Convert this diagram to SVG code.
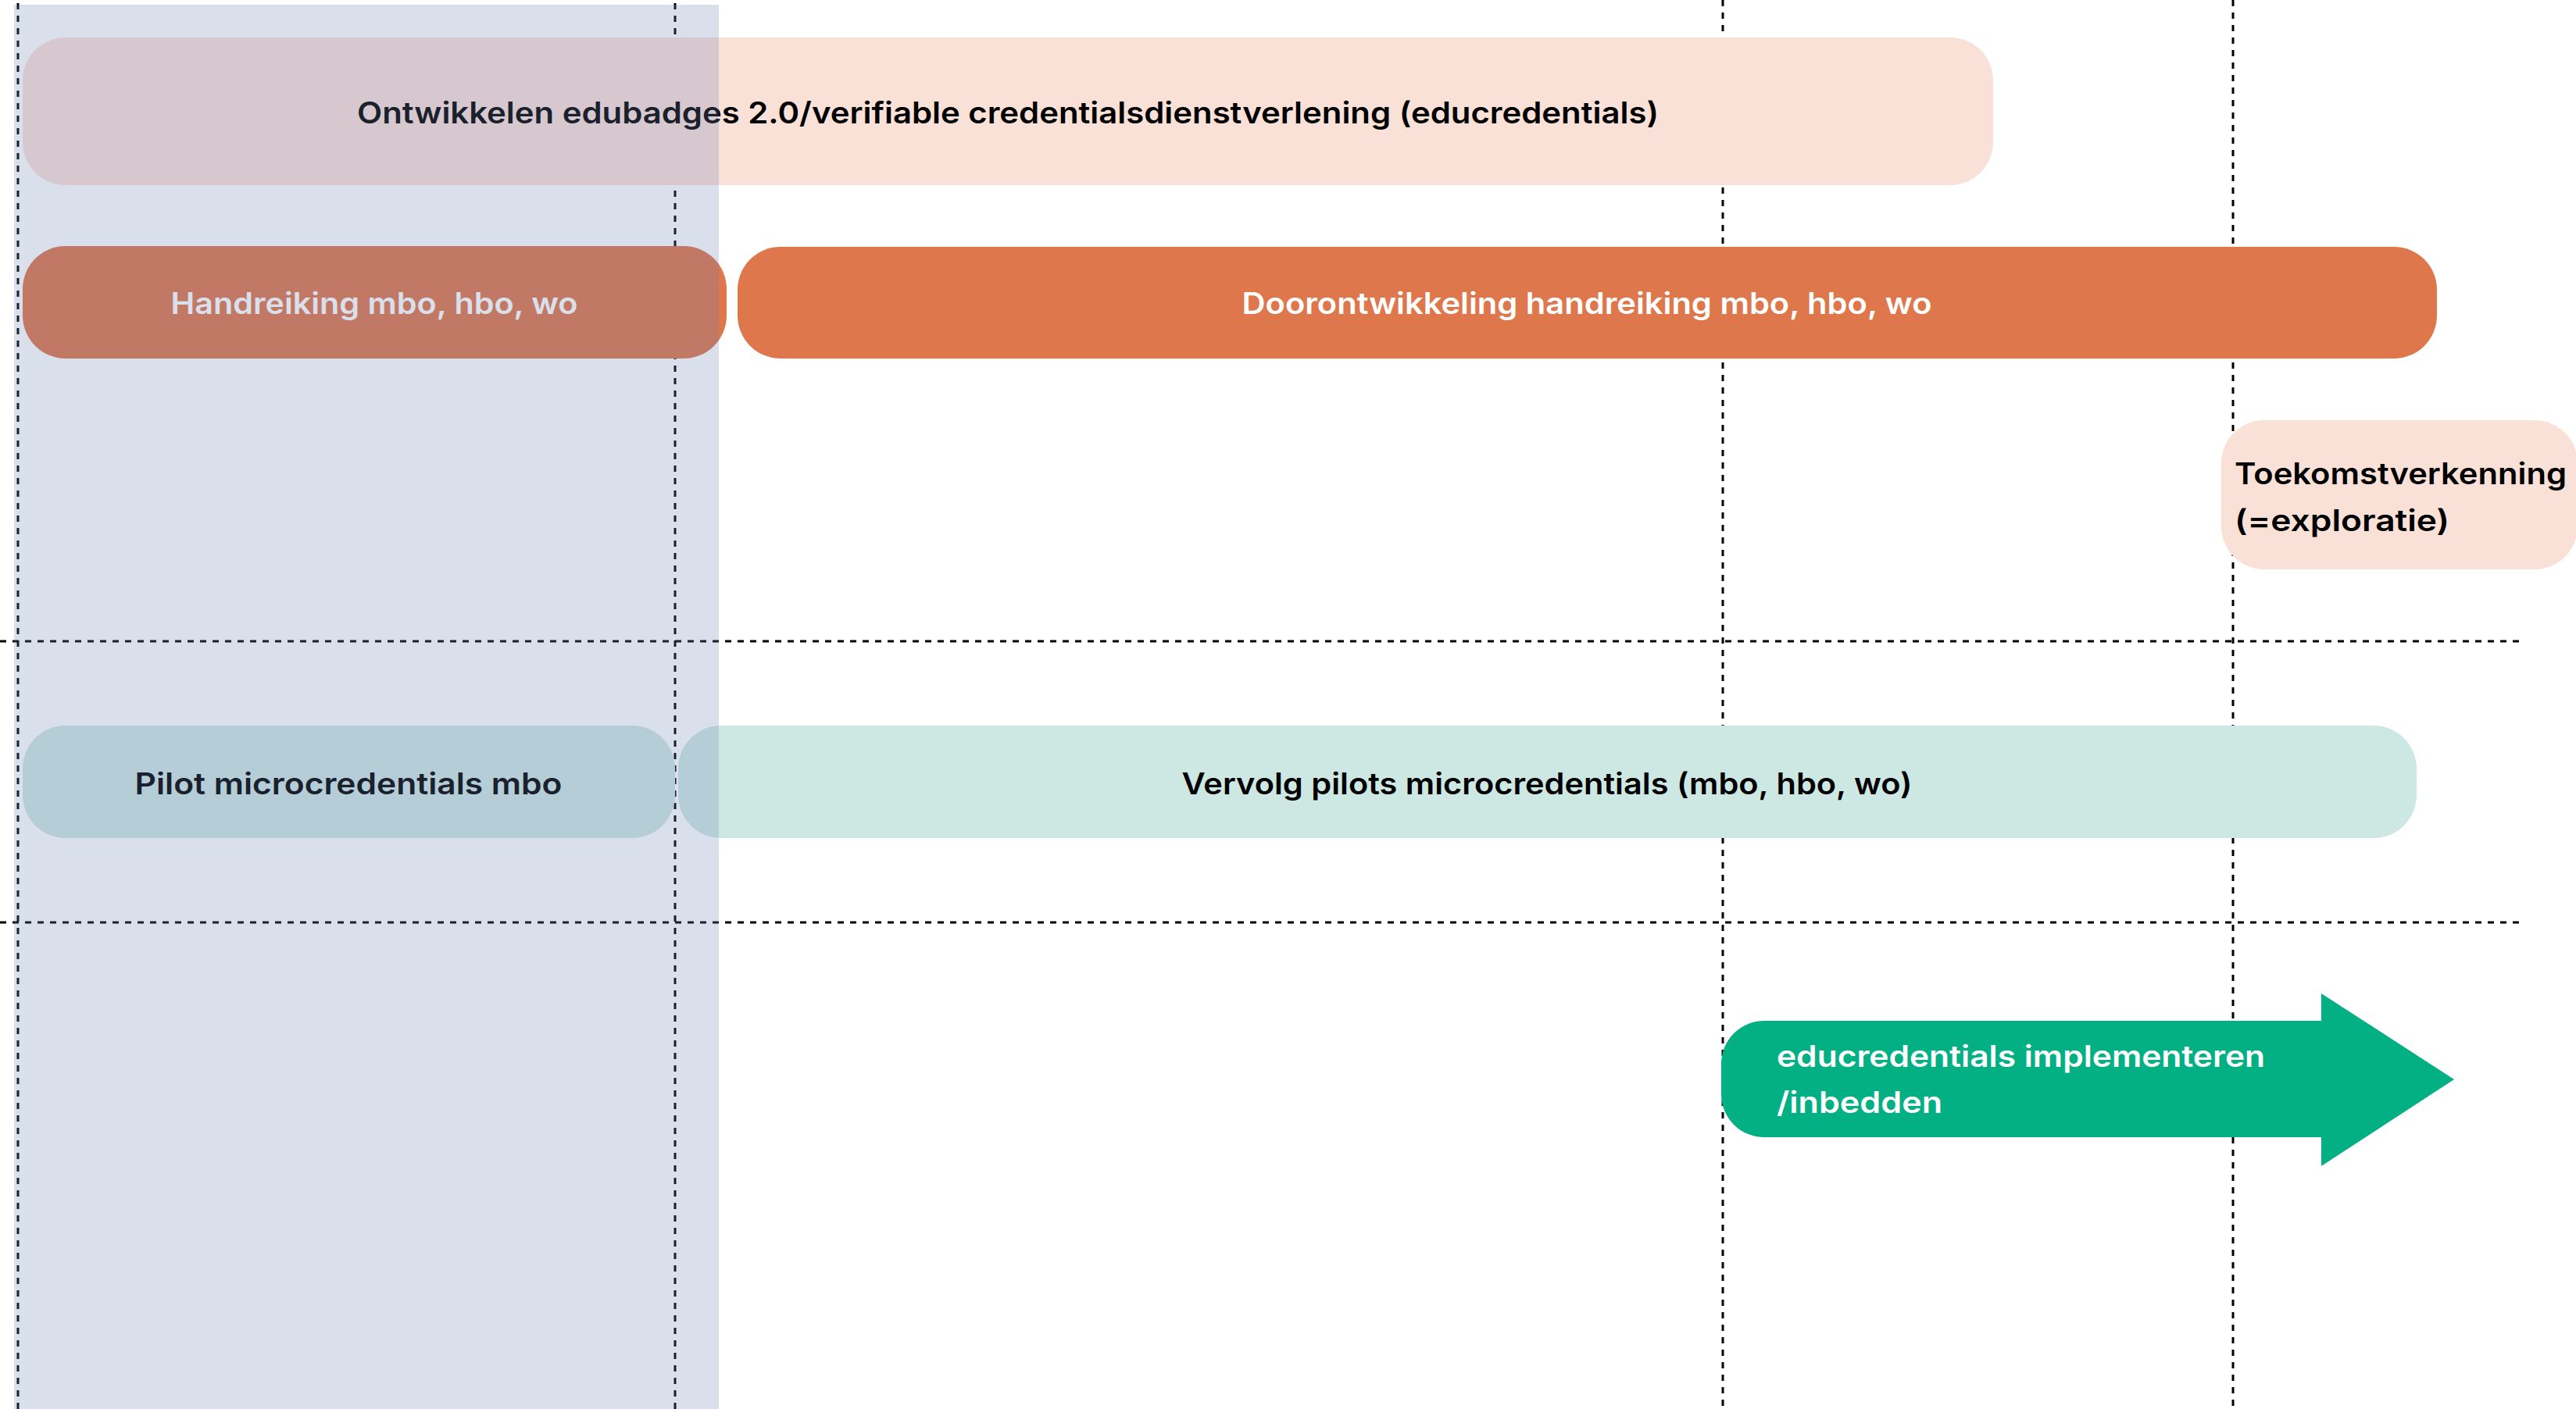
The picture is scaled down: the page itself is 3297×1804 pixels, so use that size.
<svg xmlns="http://www.w3.org/2000/svg" width="3297" height="1804" viewBox="0 0 3297 1804">
<style>
.grid{stroke:#000;stroke-width:3;stroke-dasharray:8 8;fill:none}
.t{font-family:Inter,"Liberation Sans",sans-serif;font-weight:600;font-size:38px}
.dark{fill:#000}
.light{fill:#fff}
.peach{fill:#FAE1D7}
.orange{fill:#DE774B}
.mint{fill:#CDE7E2}
.green{fill:#03B083}
</style>
<rect width="3297" height="1804" fill="#fff"/>
<g id="connectors">
<line class="grid" x1="23" y1="4" x2="23" y2="1804"/>
<line class="grid" x1="864" y1="4" x2="864" y2="1804"/>
<line class="grid" x1="2205" y1="0" x2="2205" y2="1804"/>
<line class="grid" x1="2858" y1="0" x2="2858" y2="1804"/>
<line class="grid" x1="0" y1="821" x2="3228" y2="821"/>
<line class="grid" x1="0" y1="1181" x2="3228" y2="1181"/>
</g>
<g id="node-edubadges">
<rect class="peach" x="29" y="48" width="2522" height="189" rx="55"/>
<text class="t dark" x="1290" y="158" text-anchor="middle" textLength="1666" lengthAdjust="spacingAndGlyphs">Ontwikkelen edubadges 2.0/verifiable credentialsdienstverlening (educredentials)</text>
</g>
<g id="node-handreiking">
<rect class="orange" x="29" y="315" width="901" height="144" rx="55"/>
<text class="t light" x="479" y="402" text-anchor="middle" textLength="521" lengthAdjust="spacingAndGlyphs">Handreiking mbo, hbo, wo</text>
</g>
<g id="node-doorontwikkeling">
<rect class="orange" x="944" y="316" width="2175" height="143" rx="55"/>
<text class="t light" x="2031" y="402" text-anchor="middle" textLength="883" lengthAdjust="spacingAndGlyphs">Doorontwikkeling handreiking mbo, hbo, wo</text>
</g>
<g id="node-toekomst">
<rect class="peach" x="2843" y="538" width="456" height="191" rx="55"/>
<text class="t dark" x="2860" y="620" textLength="425" lengthAdjust="spacingAndGlyphs">Toekomstverkenning</text>
<text class="t dark" x="2860" y="680" textLength="275" lengthAdjust="spacingAndGlyphs">(=exploratie)</text>
</g>
<g id="node-pilot">
<rect class="mint" x="29" y="929" width="835" height="144" rx="55"/>
<text class="t dark" x="446" y="1017" text-anchor="middle" textLength="547" lengthAdjust="spacingAndGlyphs">Pilot microcredentials mbo</text>
</g>
<g id="node-vervolg">
<rect class="mint" x="868" y="929" width="2225" height="144" rx="55"/>
<text class="t dark" x="1980" y="1017" text-anchor="middle" textLength="935" lengthAdjust="spacingAndGlyphs">Vervolg pilots microcredentials (mbo, hbo, wo)</text>
</g>
<g id="node-implementeren">
<path class="green" d="M2258 1307 H2971 V1272 L3141 1382 L2971 1493 V1456 H2258 A55 55 0 0 1 2203 1401 V1362 A55 55 0 0 1 2258 1307 Z"/>
<text class="t light" x="2274" y="1366" textLength="625" lengthAdjust="spacingAndGlyphs">educredentials implementeren</text>
<text class="t light" x="2274" y="1425" textLength="212" lengthAdjust="spacingAndGlyphs">/inbedden</text>
</g>
<g id="band">
<rect x="18" y="6" width="902" height="1798" fill="#6C80B4" fill-opacity="0.25"/>
</g>
</svg>
